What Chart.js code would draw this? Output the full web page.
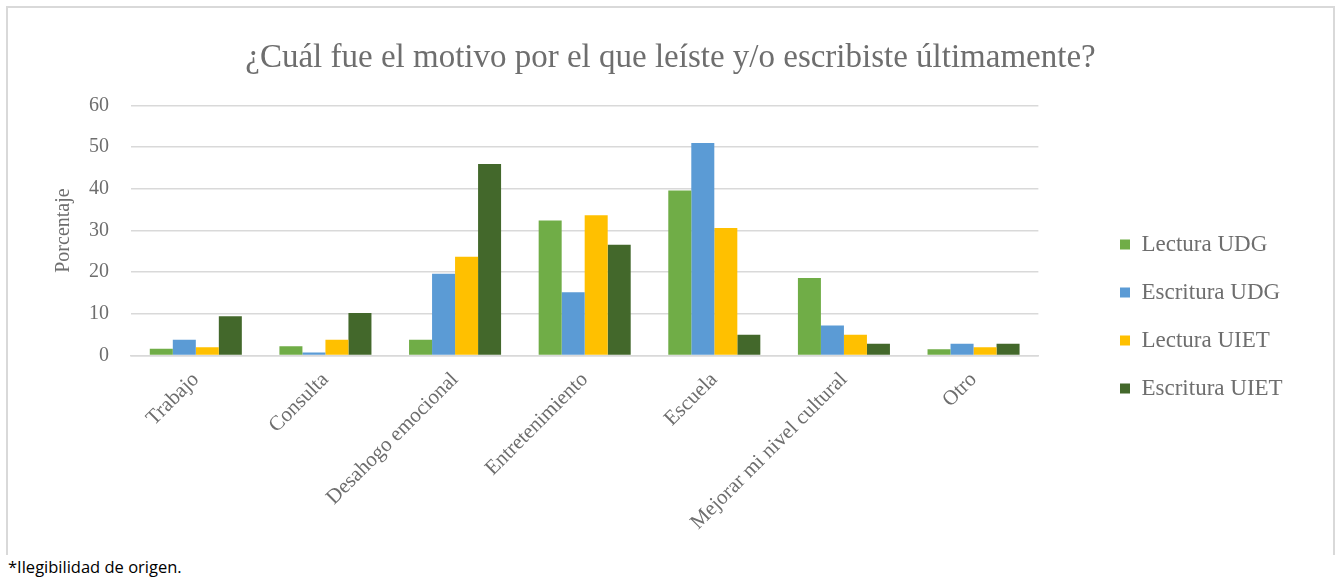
<!DOCTYPE html>
<html lang="es">
<head>
<meta charset="utf-8">
<title>Motivo de lectura y escritura</title>
<script src="https://cdn.jsdelivr.net/npm/chart.js@4.4.1/dist/chart.umd.min.js"></script>
<style>
    html, body { margin: 0; padding: 0; background: #ffffff; }
    body { width: 1338px; height: 577px; position: relative; overflow: hidden; }
    #chartBox {
        position: absolute; left: 6px; top: 6px; width: 1329px; height: 549px;
        border: 2px solid #d9d9d9; border-bottom: none; box-sizing: border-box;
    }
    #chartBox canvas { display: block; }
    #nota {
        position: absolute; left: 8px; top: 555px;
        font-family: "Open Sans", sans-serif; font-size: 16.5px; color: #000000;
    }
</style>
</head>
<body>
<div id="chartBox"><canvas id="motivoChart" width="1325" height="547"></canvas></div>
<div id="nota">*Ilegibilidad de origen.</div>

<script>
// Data (percentages)
const categorias = ['Trabajo', 'Consulta', 'Desahogo emocional', 'Entretenimiento', 'Escuela', 'Mejorar mi nivel cultural', 'Otro'];
const series = ['Lectura UDG', 'Escritura UDG', 'Lectura UIET', 'Escritura UIET'];
const lecturaUDG = [1.6, 2.2, 3.8, 32.4, 39.6, 18.6, 1.5];
const escrituraUDG = [3.8, 0.7, 19.6, 15.2, 51.0, 7.2, 2.8];
const lecturaUIET = [2.0, 3.8, 23.7, 33.7, 30.6, 5.0, 2.0];
const escrituraUIET = [9.4, 10.2, 46.0, 26.6, 5.0, 2.8, 2.8];
const yTicks = [0, 10, 20, 30, 40, 50, 60];

const colores = ['#70ad47', '#5b9bd5', '#ffc000', '#43682b'];
const serif = "'Liberation Serif', 'Times New Roman', serif";
const gris = '#6e6e6e';

// Puts the legend further right and lower, and centres the title on the whole canvas
const layoutShift = {
    id: 'layoutShift',
    beforeDraw(chart) {
        const lg = chart.legend;
        const dx = 1087 - lg.left;
        const dy = 86;
        lg.left += dx;
        lg.right += dx;
        lg.top += dy;
        lg.bottom += dy;

        const tt = chart.titleBlock;
        const tx = chart.width / 2 - (tt.left + tt.right) / 2;
        tt.left += tx;
        tt.right += tx;
    }
};

document.addEventListener('DOMContentLoaded', function () {
    const ctx = document.getElementById('motivoChart').getContext('2d');

    const valores = [lecturaUDG, escrituraUDG, lecturaUIET, escrituraUIET];

    const motivoChart = new Chart(ctx, {
        type: 'bar',
        data: {
            labels: categorias,
            datasets: series.map((nombre, i) => ({
                label: nombre,
                data: valores[i],
                backgroundColor: colores[i],
                borderWidth: 0,
                barPercentage: 1,
                categoryPercentage: 0.71
            }))
        },
        options: {
            responsive: false,
            animation: false,
            layout: {
                padding: { top: 0, left: 44, right: 97, bottom: 16 }
            },
            scales: {
                y: {
                    min: 0,
                    max: 60,
                    afterBuildTicks: function (axis) {
                        axis.ticks = yTicks.map(v => ({ value: v }));
                    },
                    border: { display: false },
                    grid: { color: '#d9d9d9', lineWidth: 1.5, drawTicks: false },
                    ticks: {
                        color: gris,
                        padding: 22,
                        font: { family: serif, size: 20 }
                    },
                    title: {
                        display: true,
                        text: 'Porcentaje',
                        color: gris,
                        padding: { top: 0, bottom: -9 },
                        font: { family: serif, size: 20 }
                    }
                },
                x: {
                    border: { color: '#d9d9d9', width: 1.5 },
                    grid: { display: false },
                    ticks: {
                        color: gris,
                        minRotation: 45,
                        maxRotation: 45,
                        padding: 4,
                        font: { family: serif, size: 21 }
                    }
                }
            },
            plugins: {
                title: {
                    display: true,
                    text: '¿Cuál fue el motivo por el que leíste y/o escribiste últimamente?',
                    color: gris,
                    padding: { top: 31, bottom: 27 },
                    font: { family: serif, size: 33, weight: 'normal' }
                },
                legend: {
                    position: 'right',
                    fullSize: false,
                    labels: {
                        color: gris,
                        boxWidth: 10,
                        boxHeight: 10,
                        padding: 25,
                        font: { family: serif, size: 23 }
                    }
                },
                tooltip: { enabled: false }
            }
        },
        plugins: [layoutShift]
    });
});
</script>
</body>
</html>
